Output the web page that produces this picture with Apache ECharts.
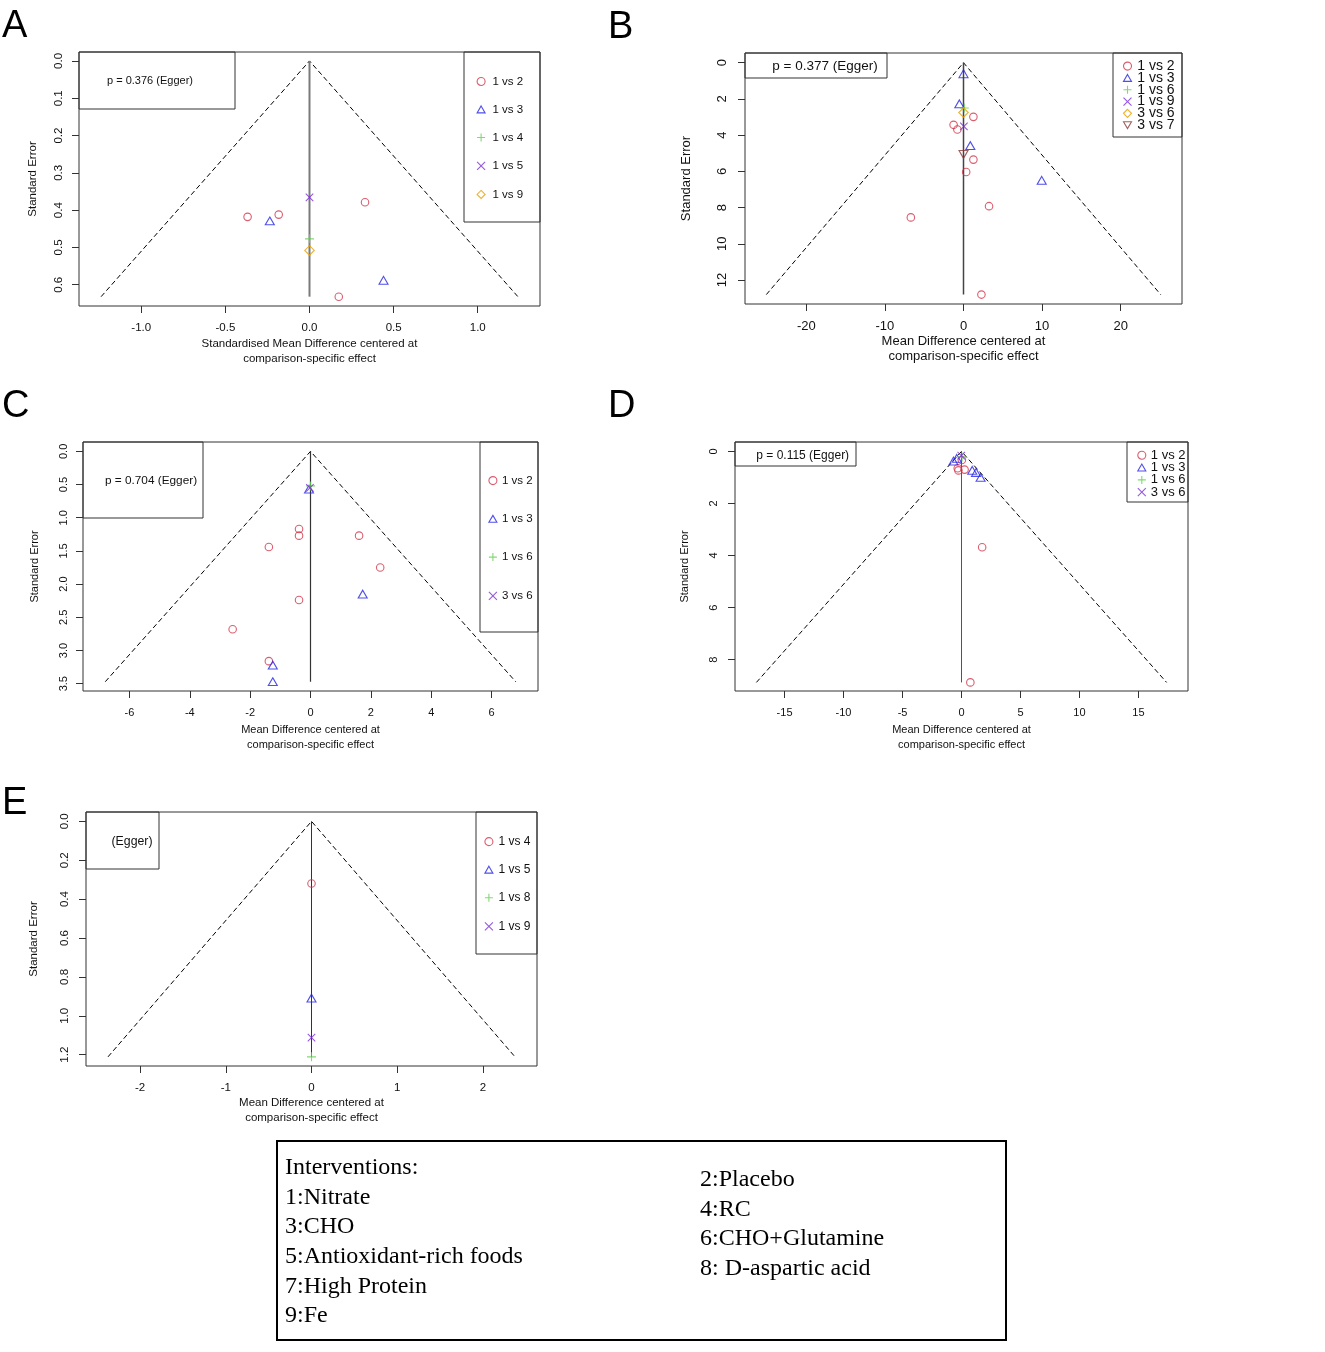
<!DOCTYPE html>
<html>
<head>
<meta charset="utf-8">
<script src="https://cdn.jsdelivr.net/npm/echarts@6/dist/echarts.min.js"></script>
<style>
html,body{margin:0;padding:0;background:#fff;}
#chart{width:1325px;height:1352px;}
</style>
</head>
<body>
<div id="chart"></div>
<script>
// ---------------- DATA ----------------
// Panel A
const A_legend = ['1 vs 2', '1 vs 3', '1 vs 4', '1 vs 5', '1 vs 9'];
const A_1vs2 = [[-0.368, 0.418], [-0.183, 0.412], [0.330, 0.379], [0.174, 0.632]];
const A_1vs3 = [[-0.236, 0.429], [0.440, 0.588]];
const A_1vs4 = [[0, 0.477]];
const A_1vs5 = [[0, 0.366]];
const A_1vs9 = [[0, 0.508]];
const A_xTicks = [-1.0, -0.5, 0, 0.5, 1.0];
const A_yTicks = [0, 0.1, 0.2, 0.3, 0.4, 0.5, 0.6];
const A_egger = 'p = 0.376 (Egger)';

// Panel B
const B_legend = ['1 vs 2', '1 vs 3', '1 vs 6', '1 vs 9', '3 vs 6', '3 vs 7'];
const B_1vs2 = [[1.26, 2.99], [-1.26, 3.43], [-0.78, 3.69], [1.26, 5.35], [0.34, 6.03], [3.25, 7.92], [-6.7, 8.54], [2.28, 12.8]];
const B_1vs3 = [[0, 0.61], [-0.53, 2.27], [0.87, 4.58], [9.95, 6.49]];
const B_1vs6 = [[0.1, 2.5]];
const B_1vs9 = [[0.05, 3.52]];
const B_3vs6 = [[0, 2.75]];
const B_3vs7 = [[0, 5.06]];
const B_xTicks = [-20, -10, 0, 10, 20];
const B_yTicks = [0, 2, 4, 6, 8, 10, 12];
const B_egger = 'p = 0.377 (Egger)';

// Panel C
const C_legend = ['1 vs 2', '1 vs 3', '1 vs 6', '3 vs 6'];
const C_1vs2 = [[-0.38, 1.17], [-0.38, 1.27], [1.61, 1.27], [-1.38, 1.44], [2.31, 1.75], [-0.38, 2.24], [-2.58, 2.68], [-1.38, 3.16]];
const C_1vs3 = [[-0.05, 0.57], [1.73, 2.15], [-1.25, 3.22], [-1.25, 3.47]];
const C_1vs6 = [[0, 0.52]];
const C_3vs6 = [[-0.02, 0.55]];
const C_xTicks = [-6, -4, -2, 0, 2, 4, 6];
const C_yTicks = [0, 0.5, 1.0, 1.5, 2.0, 2.5, 3.0, 3.5];
const C_egger = 'p = 0.704 (Egger)';

// Panel D
const D_legend = ['1 vs 2', '1 vs 3', '1 vs 6', '3 vs 6'];
const D_1vs2 = [[0.03, 0.33], [-0.32, 0.65], [-0.26, 0.73], [0.26, 0.70], [1.75, 3.68], [0.75, 8.87]];
const D_1vs3 = [[-0.68, 0.37], [-0.40, 0.27], [0.91, 0.73], [1.23, 0.81], [1.62, 1.0]];
const D_1vs6 = [[0.05, 0.22]];
const D_3vs6 = [[-0.02, 0.16]];
const D_xTicks = [-15, -10, -5, 0, 5, 10, 15];
const D_yTicks = [0, 2, 4, 6, 8];
const D_egger = 'p = 0.115 (Egger)';

// Panel E
const E_legend = ['1 vs 4', '1 vs 5', '1 vs 8', '1 vs 9'];
const E_1vs4 = [[0, 0.32]];
const E_1vs5 = [[0, 0.909]];
const E_1vs8 = [[0, 1.211]];
const E_1vs9 = [[0, 1.112]];
const E_xTicks = [-2, -1, 0, 1, 2];
const E_yTicks = [0, 0.2, 0.4, 0.6, 0.8, 1.0, 1.2];
const E_egger = '(Egger)';

// Interventions key
const interventionsLeft = ['Interventions:', '1:Nitrate', '3:CHO', '5:Antioxidant-rich foods', '7:High Protein', '9:Fe'];
const interventionsRight = ['2:Placebo', '4:RC', '6:CHO+Glutamine', '8: D-aspartic acid'];

const xTitleSMD = 'Standardised Mean Difference centered at\ncomparison-specific effect';
const xTitleMD = 'Mean Difference centered at\ncomparison-specific effect';
const yTitle = 'Standard Error';

// ---------------- STYLE / LAYOUT ----------------
const FONT = '"Liberation Sans", Arial, Helvetica, sans-serif';
const SERIF = '"Liberation Serif", "Times New Roman", serif';
const SYM = [
  { symbol: 'circle', size: 7.5, color: '#D2354A' },
  { symbol: 'path://M5,0L10,8.66L0,8.66Z', size: [9, 7.8], color: '#2424E6' },
  { symbol: 'path://M5,0L5,10M0,5L10,5', size: 9, color: '#61D04F' },
  { symbol: 'path://M0,0L10,10M10,0L0,10', size: 7.5, color: '#7A2FD6' },
  { symbol: 'diamond', size: 9.5, color: '#E69F00' },
  { symbol: 'path://M0,0L10,0L5,8.66Z', size: [9, 7.8], color: '#8B3A3A' }
];

const panels = [
  { id: 'A', legend: A_legend, series: [A_1vs2, A_1vs3, A_1vs4, A_1vs5, A_1vs9], xTicks: A_xTicks, yTicks: A_yTicks,
    xDec: 1, yDec: 1, xName: xTitleSMD, egger: A_egger,
    grid: { left: 79, top: 52, width: 461, height: 254 }, xr: [-1.37, 1.37], yr: [-0.024, 0.657],
    fs: 11.5, lm: 16, ym: 14, ng: 30, yng: 40, vline: { c: '#7a7a7a', w: 2 },
    eggerBox: [79, 52, 156, 57], eggerText: [150, 81, 11],
    legBox: [464, 52, 76, 170], leg: { x: 478.6, y: 81.3, gap: 28.25, pad: 2.3, fs: 11.5, row: 12.75 },
    letter: ['A', 2, 27] },
  { id: 'B', legend: B_legend, series: [B_1vs2, B_1vs3, B_1vs6, B_1vs9, B_3vs6, B_3vs7], xTicks: B_xTicks, yTicks: B_yTicks,
    xDec: 0, yDec: 0, xName: xTitleMD, egger: B_egger,
    grid: { left: 745, top: 53, width: 437, height: 251 }, xr: [-27.8, 27.8], yr: [-0.535, 13.32],
    fs: 13, lm: 16, ym: 16.5, ng: 30, yng: 52, vline: { c: '#444', w: 1.5 },
    eggerBox: [745, 53, 142, 25], eggerText: [825, 66.5, 13.5],
    legBox: [1113, 53, 69, 84], leg: { x: 1125, y: 66.2, gap: 12.06, pad: 0.7, fs: 14, row: 14.24 },
    letter: ['B', 608, 28] },
  { id: 'C', legend: C_legend, series: [C_1vs2, C_1vs3, C_1vs6, C_3vs6], xTicks: C_xTicks, yTicks: C_yTicks,
    xDec: 0, yDec: 1, xName: xTitleMD, egger: C_egger,
    grid: { left: 83, top: 442, width: 455, height: 249 }, xr: [-7.54, 7.54], yr: [-0.141, 3.61],
    fs: 11, lm: 16, ym: 14, ng: 31, yng: 43, vline: { c: '#333', w: 1.2 },
    eggerBox: [83, 442, 120, 76], eggerText: [151, 481, 11.8],
    legBox: [480, 442, 58, 190], leg: { x: 490.4, y: 480.3, gap: 38.2, pad: 0, fs: 11.5, row: 12.45 },
    letter: ['C', 2, 407] },
  { id: 'D', legend: D_legend, series: [D_1vs2, D_1vs3, D_1vs6, D_3vs6], xTicks: D_xTicks, yTicks: D_yTicks,
    xDec: 0, yDec: 0, xName: xTitleMD, egger: D_egger,
    grid: { left: 735, top: 442, width: 453, height: 249 }, xr: [-19.2, 19.2], yr: [-0.36, 9.2],
    fs: 11, lm: 16, ym: 16, ng: 31, yng: 45, vline: { c: '#555', w: 1 },
    eggerBox: [735, 442, 121, 24], eggerText: [802.7, 455.3, 12],
    legBox: [1127, 442, 61, 60], leg: { x: 1139.3, y: 455, gap: 12, pad: 0, fs: 13, row: 12.65 },
    letter: ['D', 608, 407] },
  { id: 'E', legend: E_legend, series: [E_1vs4, E_1vs5, E_1vs8, E_1vs9], xTicks: E_xTicks, yTicks: E_yTicks,
    xDec: 0, yDec: 1, xName: xTitleMD, egger: E_egger,
    grid: { left: 86, top: 812, width: 451, height: 254 }, xr: [-2.63, 2.63], yr: [-0.048, 1.258],
    fs: 11.5, lm: 16, ym: 15, ng: 29, yng: 46, vline: { c: '#333', w: 1 },
    eggerBox: [86, 812, 73, 57], eggerText: [132, 841.7, 12.3],
    legBox: [476, 812, 61, 142], leg: { x: 486.4, y: 841.5, gap: 28.3, pad: 0.6, fs: 12, row: 12.75 },
    letter: ['E', 2, 803.5] }
];

// ---------------- BUILD OPTION ----------------
const grids = [], xAxes = [], yAxes = [], series = [], legends = [], graphics = [];

panels.forEach((p, i) => {
  grids.push(Object.assign({ show: true, borderColor: '#333', borderWidth: 1, backgroundColor: 'transparent',
    containLabel: false, outerBoundsMode: 'none' }, p.grid));
  const tickStyle = { show: true, length: 7, inside: false, lineStyle: { color: '#333', width: 1 } };
  xAxes.push({
    type: 'value', gridIndex: i, min: p.xr[0], max: p.xr[1], position: 'bottom',
    axisLine: { show: false, onZero: false }, splitLine: { show: false },
    axisTick: Object.assign({ customValues: p.xTicks }, tickStyle),
    axisLabel: { customValues: p.xTicks, margin: p.lm, fontSize: p.fs, color: '#111', fontFamily: FONT,
      formatter: v => Number(v).toFixed(p.xDec) },
    name: p.xName, nameLocation: 'middle', nameGap: p.ng,
    nameTextStyle: { fontSize: p.fs, color: '#111', fontFamily: FONT, lineHeight: 15 }
  });
  yAxes.push({
    type: 'value', gridIndex: i, min: p.yr[0], max: p.yr[1], inverse: true, position: 'left',
    axisLine: { show: false, onZero: false }, splitLine: { show: false },
    axisTick: Object.assign({ customValues: p.yTicks }, tickStyle),
    axisLabel: { customValues: p.yTicks, margin: p.ym, rotate: 90, fontSize: p.fs, color: '#111', fontFamily: FONT,
      formatter: v => Number(v).toFixed(p.yDec) },
    name: yTitle, nameLocation: 'middle', nameGap: p.yng, nameRotate: 90,
    nameTextStyle: { fontSize: p.fs, color: '#111', fontFamily: FONT }
  });

  // funnel lines derived from max standard error of the panel's data
  let m = 0;
  p.series.forEach(arr => arr.forEach(d => { if (d[1] > m) m = d[1]; }));
  series.push({
    type: 'line', xAxisIndex: i, yAxisIndex: i, silent: true, symbol: 'none', z: 1,
    data: [[-1.96 * m, m], [0, 0], [1.96 * m, m]],
    lineStyle: { color: '#000', width: 1, type: [5, 3] }
  });
  series.push({
    type: 'line', xAxisIndex: i, yAxisIndex: i, silent: true, symbol: 'none', z: 1,
    data: [[0, 0], [0, m]],
    lineStyle: { color: p.vline.c, width: p.vline.w }
  });

  const legData = [];
  p.series.forEach((arr, k) => {
    const s = SYM[k];
    const name = p.id + '|' + p.legend[k];
    series.push({
      type: 'scatter', name: name, xAxisIndex: i, yAxisIndex: i, z: 3,
      symbol: s.symbol, symbolSize: s.size,
      itemStyle: { color: 'none', borderColor: s.color, borderWidth: 1.1 },
      emphasis: { disabled: true },
      data: arr
    });
    legData.push({ name: name, icon: s.symbol,
      itemStyle: { color: 'none', borderColor: s.color, borderWidth: 1.1 } });
  });
  legends.push({
    data: legData, orient: 'vertical', selectedMode: false,
    left: p.leg.x - 4, top: p.leg.y - p.leg.row / 2, padding: 0,
    itemWidth: 8, itemHeight: 8, itemGap: p.leg.gap - p.leg.row,
    formatter: n => n.split('|')[1],
    textStyle: { fontSize: p.leg.fs, fontFamily: FONT, color: '#111', lineHeight: 12, padding: [0, 0, 0, p.leg.pad] }
  });

  // legend box
  graphics.push({ type: 'rect', silent: true, shape: { x: p.legBox[0], y: p.legBox[1], width: p.legBox[2], height: p.legBox[3] },
    style: { fill: 'none', stroke: '#333', lineWidth: 1 } });
  // Egger box
  graphics.push({ type: 'rect', silent: true, shape: { x: p.eggerBox[0], y: p.eggerBox[1], width: p.eggerBox[2], height: p.eggerBox[3] },
    style: { fill: 'none', stroke: '#333', lineWidth: 1 } });
  graphics.push({ type: 'text', silent: true, x: p.eggerText[0], y: p.eggerText[1],
    style: { text: p.egger, fontSize: p.eggerText[2], fontFamily: FONT, fill: '#111', align: 'center', verticalAlign: 'middle' } });
  // panel letter
  graphics.push({ type: 'text', silent: true, x: p.letter[1], y: p.letter[2],
    style: { text: p.letter[0], fontSize: 38, fontFamily: FONT, fill: '#000', align: 'left', verticalAlign: 'middle' } });
});

// interventions box
graphics.push({ type: 'rect', silent: true, shape: { x: 277, y: 1141, width: 729, height: 199 },
  style: { fill: 'none', stroke: '#000', lineWidth: 2 } });
interventionsLeft.forEach((t, k) => {
  graphics.push({ type: 'text', silent: true, x: 285, y: 1168 + k * 29.6,
    style: { text: t, fontSize: 24, fontFamily: SERIF, fill: '#000', align: 'left', verticalAlign: 'middle' } });
});
interventionsRight.forEach((t, k) => {
  graphics.push({ type: 'text', silent: true, x: 700, y: 1180 + k * 29.6,
    style: { text: t, fontSize: 24, fontFamily: SERIF, fill: '#000', align: 'left', verticalAlign: 'middle' } });
});

const option = {
  animation: false,
  backgroundColor: '#fff',
  textStyle: { fontFamily: FONT },
  grid: grids,
  xAxis: xAxes,
  yAxis: yAxes,
  legend: legends,
  series: series,
  graphic: { elements: graphics }
};

const chart = echarts.init(document.getElementById('chart'), null, { renderer: 'canvas' });
chart.setOption(option);
</script>
</body>
</html>
